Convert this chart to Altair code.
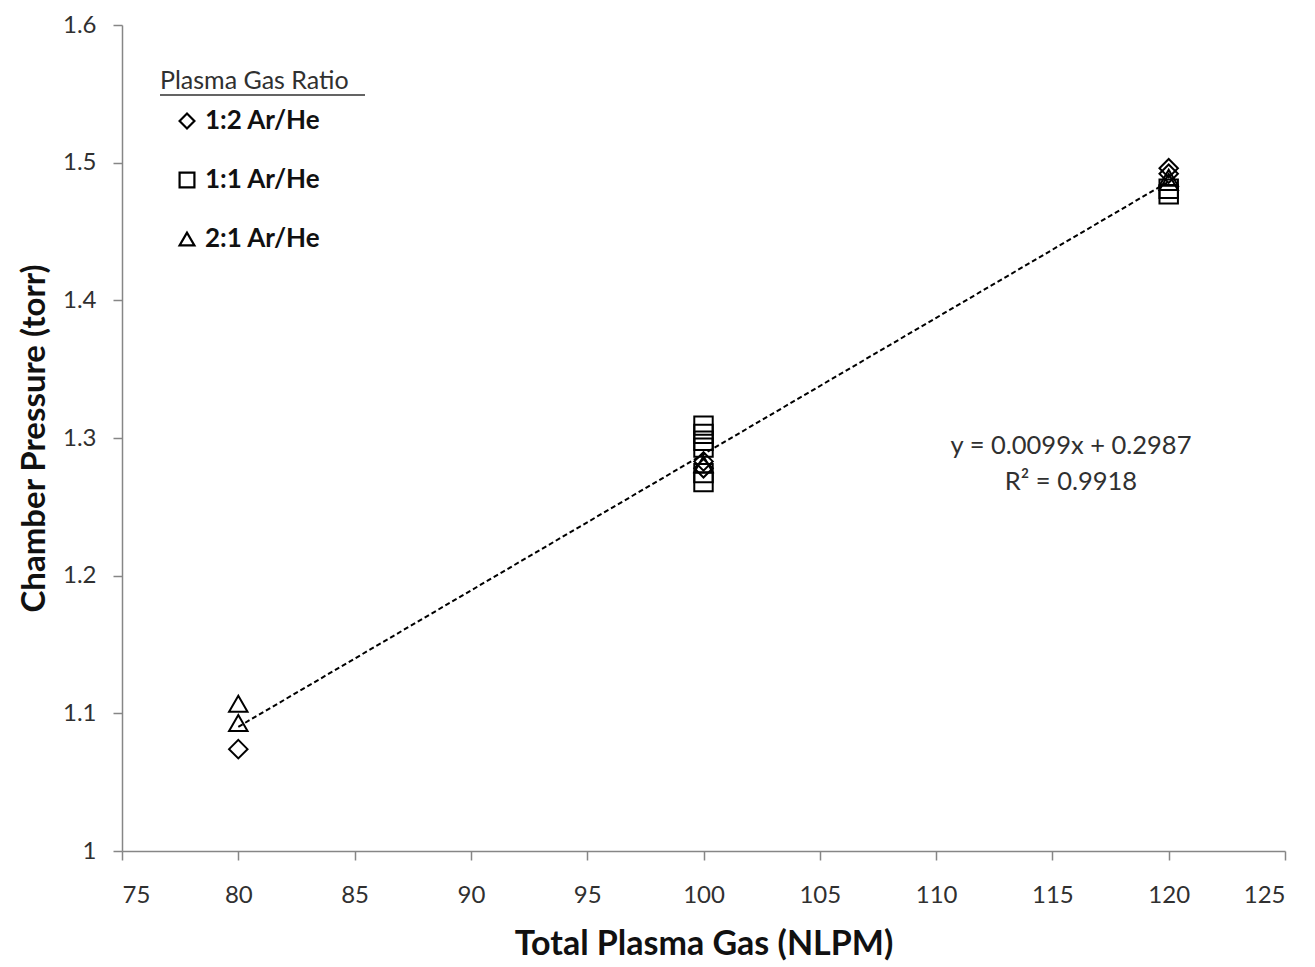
import altair as alt
import pandas as pd

# Data
x_80 = [80, 80, 80]
y_80 = [1.074, 1.107, 1.093]
g_80 = ["1:2 Ar/He", "2:1 Ar/He", "2:1 Ar/He"]

x_100 = [100] * 9
y_100 = [1.309, 1.303, 1.298, 1.293, 1.2745, 1.268, 1.283, 1.278, 1.281]
g_100 = ["1:1 Ar/He"] * 6 + ["1:2 Ar/He", "1:2 Ar/He", "2:1 Ar/He"]

x_120 = [120] * 6
y_120 = [1.496, 1.492, 1.489, 1.486, 1.481, 1.477]
g_120 = ["1:2 Ar/He", "1:2 Ar/He", "2:1 Ar/He", "2:1 Ar/He", "1:1 Ar/He", "1:1 Ar/He"]

groups = ["1:2 Ar/He", "1:1 Ar/He", "2:1 Ar/He"]
shapes = ["diamond", "square", "triangle-up"]

x_ticks = [75, 80, 85, 90, 95, 100, 105, 110, 115, 120, 125]
y_ticks = [1.0, 1.1, 1.2, 1.3, 1.4, 1.5, 1.6]

eq_lines = ["y = 0.0099x + 0.2987", "R² = 0.9918"]
eq_x = [115.8, 115.8]
eq_y = [1.294, 1.268]

df = pd.DataFrame({
    "gas": x_80 + x_100 + x_120,
    "pressure": y_80 + y_100 + y_120,
    "ratio": g_80 + g_100 + g_120,
})
eq_df = pd.DataFrame({"x": eq_x, "y": eq_y, "t": eq_lines})

FONT = "Lato"
AXIS_COLOR = "#868686"
TEXT_COLOR = "#303030"

xscale = alt.Scale(domain=[75, 125], nice=False, zero=False)
yscale = alt.Scale(domain=[1.0, 1.6], nice=False, zero=False)

xaxis = alt.Axis(values=x_ticks, title="Total Plasma Gas (NLPM)", grid=False,
                 tickSize=9, labelPadding=23, titlePadding=20, labelFontSize=24,
                 titleFontSize=34, titleFontWeight="bold", format="d")
yaxis = alt.Axis(values=y_ticks, title="Chamber Pressure (torr)", grid=False,
                 tickSize=9, labelPadding=17, titlePadding=11, labelFontSize=24,
                 titleFontSize=33, titleFontWeight="bold", format="~g")

points = alt.Chart(df).mark_point(filled=False, strokeWidth=2, size=340, color="black", opacity=1).encode(
    x=alt.X("gas:Q", scale=xscale, axis=xaxis),
    y=alt.Y("pressure:Q", scale=yscale, axis=yaxis),
    shape=alt.Shape("ratio:N", scale=alt.Scale(domain=groups, range=shapes),
                    legend=alt.Legend(title="Plasma Gas Ratio", orient="none",
                                      legendX=38, legendY=44, titleLimit=400)),
)

trend = alt.Chart(df).transform_regression("gas", "pressure", extent=[80, 120]).mark_line(
    color="black", strokeDash=[5, 3], strokeWidth=2
).encode(
    x=alt.X("gas:Q", scale=xscale),
    y=alt.Y("pressure:Q", scale=yscale),
)

eq_text = alt.Chart(eq_df).mark_text(font=FONT, fontSize=25.5, color=TEXT_COLOR, align="center").encode(
    x=alt.X("x:Q", scale=xscale),
    y=alt.Y("y:Q", scale=yscale),
    text="t:N",
)

underline = alt.Chart(pd.DataFrame({"a": [0]})).mark_rule(color=TEXT_COLOR, strokeWidth=1.5).encode(
    x=alt.value(38), x2=alt.value(243), y=alt.value(70)
)

chart = alt.layer(points, trend, eq_text, underline).properties(
    width=1163, height=826,
    autosize=alt.AutoSizeParams(type="none"),
    padding={"left": 114, "top": 17, "right": 20, "bottom": 125},
).configure_view(stroke=None).configure_axis(
    domainColor=AXIS_COLOR, tickColor=AXIS_COLOR, domainWidth=1.5, tickWidth=1.5,
    labelColor=TEXT_COLOR, titleColor="#111111", labelFont=FONT, titleFont=FONT,
).configure_legend(
    titleFont=FONT, labelFont=FONT, titleFontSize=25, titleFontWeight="normal",
    titleColor=TEXT_COLOR, labelFontSize=26, labelFontWeight="bold", labelColor="#111111",
    symbolSize=220, symbolStrokeWidth=2.2, symbolStrokeColor="black", symbolOpacity=1,
    symbolFillColor="transparent", symbolOffset=14, labelOffset=5,
    rowPadding=33, titlePadding=14, padding=0,
)

chart.save("out.html", embed_options={"renderer": "svg", "actions": False})
